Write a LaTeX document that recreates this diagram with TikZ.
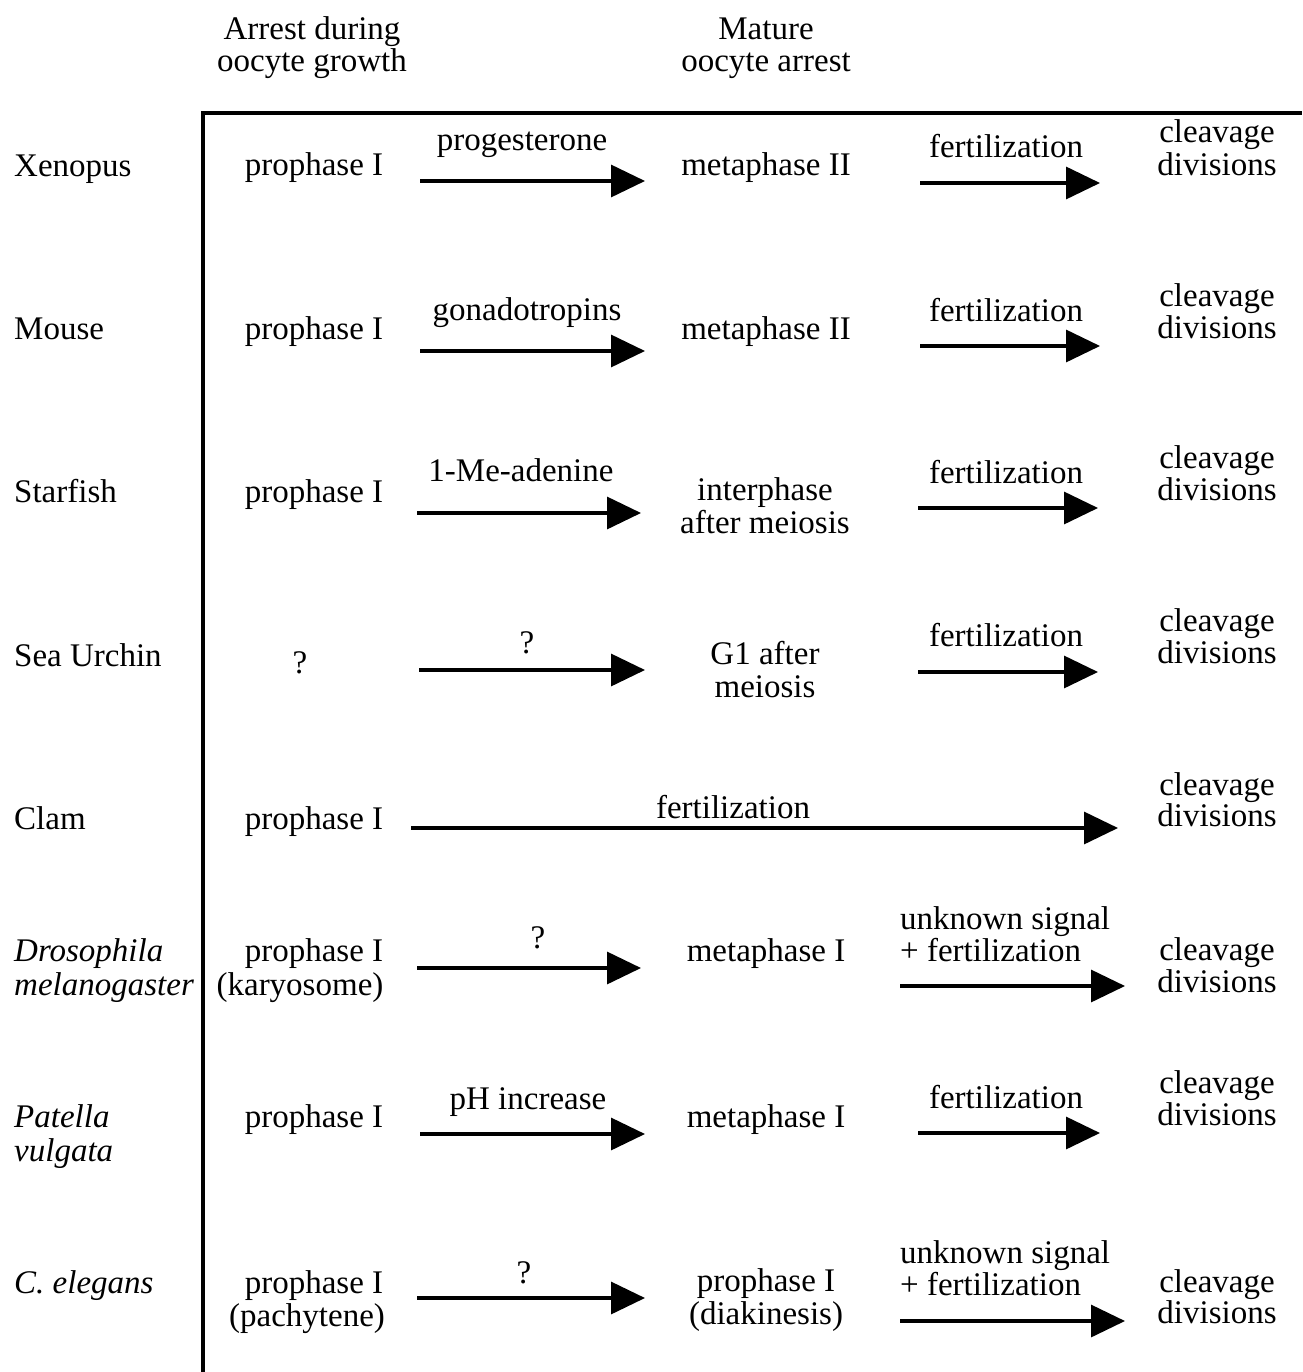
\documentclass[tikz,border=0pt]{standalone}
\usepackage{fontspec}
\setmainfont{Liberation Serif}
\usetikzlibrary{arrows.meta}
\begin{document}
\begin{tikzpicture}[x=1pt,y=-1pt,
  txt/.style={inner sep=0pt, anchor=base, yshift=-2pt, font=\fontsize{33}{33}\selectfont},
  lft/.style={txt, anchor=base west},
  itl/.style={lft, font=\fontsize{33}{33}\selectfont\itshape},
  arr/.style={line width=3.3pt, -{Triangle[length=34pt,width=32pt]}},
  frame/.style={line width=3.3pt, line join=miter}]
\useasboundingbox (0,0) rectangle (1302,1372);
% frame
\coordinate (fb) at (203,1372);
\coordinate (ft) at (203,113);
\coordinate (fr) at (1302,113);
\draw[frame] (fb) -- (ft) -- (fr);
% headers
\node[txt] (h1a) at (312,38) {Arrest during};
\node[txt] (h1b) at (312,70) {oocyte growth};
\node[txt] (h2a) at (766,38) {Mature};
\node[txt] (h2b) at (766,70) {oocyte arrest};
% Row 1 Xenopus
\node[lft] (s1) at (14,175) {Xenopus};
\node[txt] (a1) at (314,174) {prophase I};
\coordinate (p1s) at (420,181); \coordinate (p1e) at (645,181);
\draw[arr] (p1s) -- (p1e);
\node[txt] (l1) at (522,149) {progesterone};
\node[txt] (m1) at (766,174) {metaphase II};
\coordinate (q1s) at (920,183); \coordinate (q1e) at (1100,183);
\draw[arr] (q1s) -- (q1e);
\node[txt] (f1) at (1006,156) {fertilization};
\node[txt] (c1a) at (1217,141) {cleavage};
\node[txt] (c1b) at (1217,174) {divisions};
% Row 2 Mouse
\node[lft] (s2) at (14,337) {Mouse};
\node[txt] (a2) at (314,337) {prophase I};
\coordinate (p2s) at (420,351); \coordinate (p2e) at (645,351);
\draw[arr] (p2s) -- (p2e);
\node[txt] (l2) at (527,318) {gonadotropins};
\node[txt] (m2) at (766,337) {metaphase II};
\coordinate (q2s) at (920,346); \coordinate (q2e) at (1100,346);
\draw[arr] (q2s) -- (q2e);
\node[txt] (f2) at (1006,319) {fertilization};
\node[txt] (c2a) at (1217,304) {cleavage};
\node[txt] (c2b) at (1217,336) {divisions};
% Row 3 Starfish
\node[lft] (s3) at (14,500) {Starfish};
\node[txt] (a3) at (314,500) {prophase I};
\coordinate (p3s) at (417,513); \coordinate (p3e) at (641,513);
\draw[arr] (p3s) -- (p3e);
\node[txt] (l3) at (521,479) {1-Me-adenine};
\node[txt] (m3a) at (765,498) {interphase};
\node[txt] (m3b) at (765,531) {after meiosis};
\coordinate (q3s) at (918,508); \coordinate (q3e) at (1098,508);
\draw[arr] (q3s) -- (q3e);
\node[txt] (f3) at (1006,481) {fertilization};
\node[txt] (c3a) at (1217,466) {cleavage};
\node[txt] (c3b) at (1217,498) {divisions};
% Row 4 Sea Urchin
\node[lft] (s4) at (14,664) {Sea Urchin};
\node[txt] (a4) at (300,671) {?};
\coordinate (p4s) at (419,670); \coordinate (p4e) at (645,670);
\draw[arr] (p4s) -- (p4e);
\node[txt] (l4) at (527,651) {?};
\node[txt] (m4a) at (765,662) {G1 after};
\node[txt] (m4b) at (765,695) {meiosis};
\coordinate (q4s) at (918,672); \coordinate (q4e) at (1098,672);
\draw[arr] (q4s) -- (q4e);
\node[txt] (f4) at (1006,644) {fertilization};
\node[txt] (c4a) at (1217,629) {cleavage};
\node[txt] (c4b) at (1217,661) {divisions};
% Row 5 Clam
\node[lft] (s5) at (14,827) {Clam};
\node[txt] (a5) at (314,827) {prophase I};
\coordinate (p5s) at (411,828); \coordinate (p5e) at (1118,828);
\draw[arr] (p5s) -- (p5e);
\node[txt] (l5) at (733,816) {fertilization};
\node[txt] (c5a) at (1217,793) {cleavage};
\node[txt] (c5b) at (1217,824) {divisions};
% Row 6 Drosophila
\node[itl] (s6a) at (14,959) {Drosophila};
\node[itl] (s6b) at (14,993) {melanogaster};
\node[txt] (a6a) at (314,959) {prophase I};
\node[txt] (a6b) at (300,993) {(karyosome)};
\coordinate (p6s) at (417,968); \coordinate (p6e) at (641,968);
\draw[arr] (p6s) -- (p6e);
\node[txt] (l6) at (538,946) {?};
\node[txt] (m6) at (766,959) {metaphase I};
\coordinate (q6s) at (900,986); \coordinate (q6e) at (1125,986);
\draw[arr] (q6s) -- (q6e);
\node[lft] (f6a) at (900,927) {unknown signal};
\node[lft] (f6b) at (900,959) {+ fertilization};
\node[txt] (c6a) at (1217,958) {cleavage};
\node[txt] (c6b) at (1217,990) {divisions};
% Row 7 Patella
\node[itl] (s7a) at (14,1125) {Patella};
\node[itl] (s7b) at (14,1159) {vulgata};
\node[txt] (a7) at (314,1125) {prophase I};
\coordinate (p7s) at (420,1134); \coordinate (p7e) at (645,1134);
\draw[arr] (p7s) -- (p7e);
\node[txt] (l7) at (528,1107) {pH increase};
\node[txt] (m7) at (766,1125) {metaphase I};
\coordinate (q7s) at (918,1133); \coordinate (q7e) at (1100,1133);
\draw[arr] (q7s) -- (q7e);
\node[txt] (f7) at (1006,1106) {fertilization};
\node[txt] (c7a) at (1217,1091) {cleavage};
\node[txt] (c7b) at (1217,1123) {divisions};
% Row 8 C. elegans
\node[itl] (s8) at (14,1291) {C. elegans};
\node[txt] (a8a) at (314,1291) {prophase I};
\node[txt] (a8b) at (307,1324) {(pachytene)};
\coordinate (p8s) at (417,1298); \coordinate (p8e) at (645,1298);
\draw[arr] (p8s) -- (p8e);
\node[txt] (l8) at (524,1281) {?};
\node[txt] (m8a) at (766,1289) {prophase I};
\node[txt] (m8b) at (766,1322) {(diakinesis)};
\coordinate (q8s) at (900,1321); \coordinate (q8e) at (1125,1321);
\draw[arr] (q8s) -- (q8e);
\node[lft] (f8a) at (900,1261) {unknown signal};
\node[lft] (f8b) at (900,1293) {+ fertilization};
\node[txt] (c8a) at (1217,1290) {cleavage};
\node[txt] (c8b) at (1217,1321) {divisions};
\end{tikzpicture}
\end{document}
